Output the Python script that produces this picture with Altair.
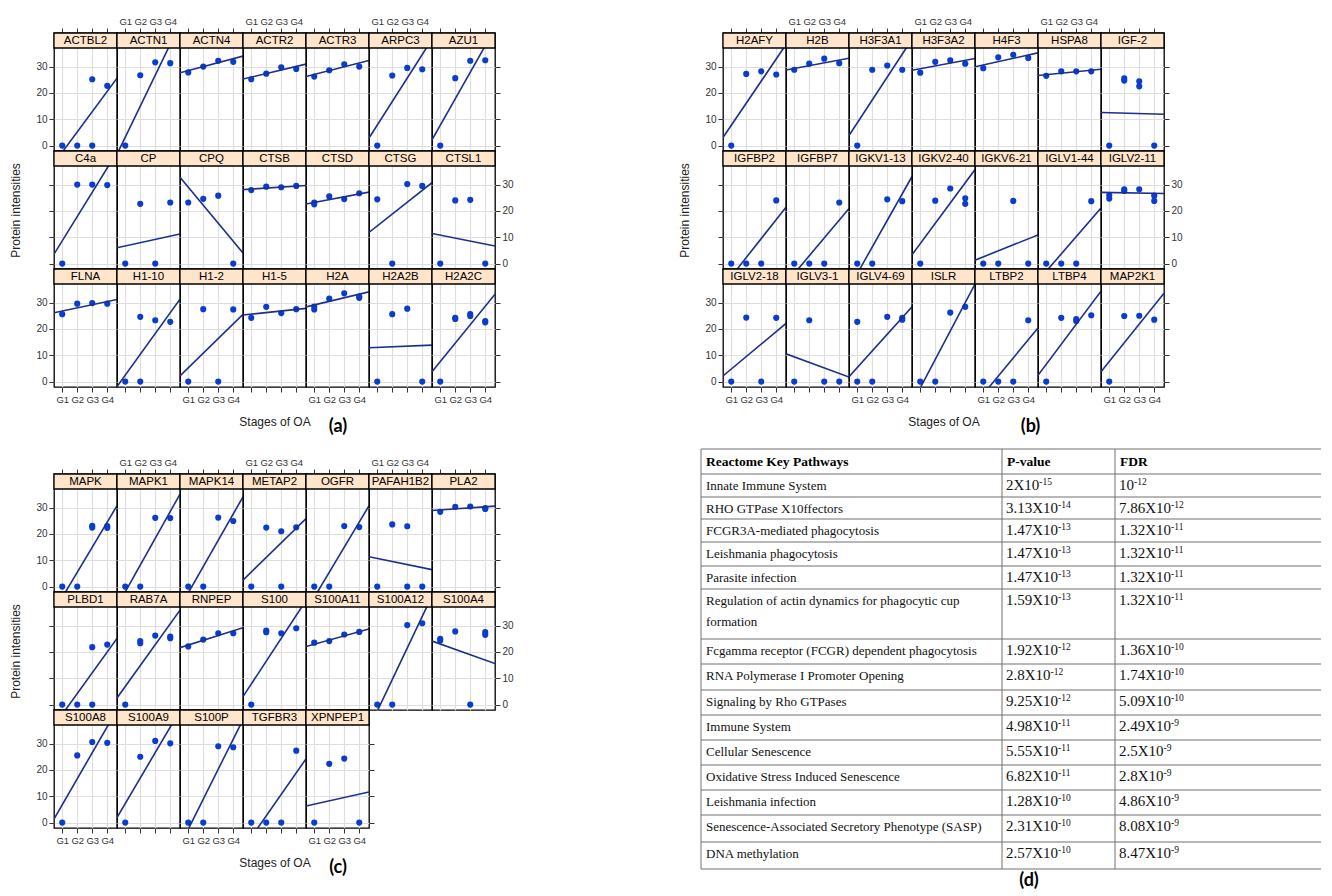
import altair as alt
import pandas as pd

SANS = "Liberation Sans, Arial, Helvetica, sans-serif"
SERIF = "Liberation Serif, Times New Roman, serif"
TAG = "Lato, Open Sans, sans-serif"

POINT_COLOR = "#0b3ccc"
LINE_COLOR = "#1c2f8c"
STRIP_FILL = "#ffe5cc"

STAGES = [1, 2, 3, 4]
Y_TICKS = [0, 10, 20, 30]

# ---------------- lattice (a) ----------------
A_NAMES = ["ACTBL2", "ACTN1", "ACTN4", "ACTR2", "ACTR3", "ARPC3", "AZU1",
           "C4a", "CP", "CPQ", "CTSB", "CTSD", "CTSG", "CTSL1",
           "FLNA", "H1-10", "H1-2", "H1-5", "H2A", "H2A2B", "H2A2C"]
A_POINTS = [
    [(1, 0), (2, 0), (3, 0), (3, 25.2), (4, 22.7)],
    [(1, 0), (2, 26.7), (3, 31.6), (4, 31.3)],
    [(1, 27.8), (2, 30), (3, 32.2), (4, 31.8)],
    [(1, 25.2), (2, 27.3), (3, 29.7), (4, 29.1)],
    [(1, 26.2), (2, 28.6), (3, 30.9), (4, 30)],
    [(1, 0), (2, 26.6), (3, 29.5), (4, 29)],
    [(1, 0), (2, 25.6), (3, 32.2), (4, 32.4)],
    [(1, 0), (2, 30), (3, 30), (4, 29.8)],
    [(1, 0), (2, 22.7), (3, 0), (4, 23.2)],
    [(1, 23.2), (2, 24.6), (3, 25.8), (4, 0)],
    [(1, 27.9), (2, 29.2), (3, 29), (4, 29.5)],
    [(1, 23.2), (1, 22.5), (2, 25.5), (3, 24.5), (4, 26.7)],
    [(1, 24.4), (2, 0), (3, 30.2), (4, 29.5)],
    [(1, 0), (2, 24), (3, 24.2), (4, 0)],
    [(1, 25.6), (2, 29.6), (3, 29.8), (4, 29.6)],
    [(1, 0), (2, 0), (2, 24.6), (3, 23.3), (4, 22.7)],
    [(1, 0), (2, 27.5), (3, 0), (4, 27.4)],
    [(1, 24.2), (2, 28.4), (3, 26), (4, 27.5)],
    [(1, 28.5), (1, 27.4), (2, 31.5), (3, 33.5), (4, 31.8), (4, 32.3)],
    [(1, 0), (2, 25.6), (3, 27.7), (4, 0)],
    [(1, 0), (2, 24.2), (2, 23.8), (3, 25.6), (3, 24.9), (4, 23), (4, 22.5)],
]
A_FIT_G1 = [-2.5, 3.2, 28.5, 26.0, 27.0, 7.8, 7.7,
            8.65, 6.7, 29.0, 28.3, 23.2, 14.3, 10.8,
            26.8, 2.45, 5.2, 25.6, 29.1, 13.0, 7.6]
A_FIT_G4 = [20.6, 38.5, 33.0, 30.05, 31.35, 34.6, 37.9,
            36.3, 10.45, 8.5, 29.4, 26.45, 27.8, 7.4,
            30.4, 26.15, 21.9, 27.4, 33.2, 13.7, 28.6]

# ---------------- lattice (b) ----------------
B_NAMES = ["H2AFY", "H2B", "H3F3A1", "H3F3A2", "H4F3", "HSPA8", "IGF-2",
           "IGFBP2", "IGFBP7", "IGKV1-13", "IGKV2-40", "IGKV6-21", "IGLV1-44", "IGLV2-11",
           "IGLV2-18", "IGLV3-1", "IGLV4-69", "ISLR", "LTBP2", "LTBP4", "MAP2K1"]
B_POINTS = [
    [(1, 0), (2, 27.2), (3, 28.2), (4, 27)],
    [(1, 28.8), (2, 31.1), (3, 33.0), (4, 31.3)],
    [(1, 0), (2, 28.8), (3, 30.4), (4, 28.8)],
    [(1, 27.7), (2, 31.8), (3, 32.4), (4, 31.1)],
    [(1, 29.4), (2, 33.5), (3, 34.5), (4, 33.3)],
    [(1, 26.5), (2, 28.2), (3, 28.2), (4, 28.2)],
    [(1, 0), (2, 25.5), (2, 24.7), (3, 24.4), (3, 22.5), (4, 0)],
    [(1, 0), (2, 0), (3, 0), (4, 24)],
    [(1, 0), (2, 0), (3, 0), (4, 23.2)],
    [(1, 0), (2, 0), (3, 24.4), (4, 23.7)],
    [(1, 0), (2, 23.9), (3, 28.5), (4, 24.8), (4, 22.7)],
    [(1, 0), (2, 0), (3, 23.8), (4, 0)],
    [(1, 0), (2, 0), (3, 0), (4, 23.7)],
    [(1, 26), (1, 24.7), (2, 28.2), (2, 27.6), (3, 28.2), (4, 25.8), (4, 23.8)],
    [(1, 0), (2, 24.3), (3, 0), (4, 24.2)],
    [(1, 0), (2, 23.3), (3, 0), (4, 0)],
    [(1, 22.7), (1, 0), (2, 0), (3, 24.6), (4, 24.2), (4, 23.5)],
    [(1, 0), (2, 0), (3, 26.2), (4, 28.4)],
    [(1, 0), (2, 0), (3, 0), (4, 23.3)],
    [(1, 0), (2, 24.2), (3, 23.7), (3, 23), (4, 25.2)],
    [(1, 0), (2, 24.9), (3, 25), (4, 23.5)],
]
B_FIT_G1 = [7.7, 29.3, 8.6, 29.2, 30.6, 26.9, 12.5,
            -4.9, -3.8, -3.8, 7.6, 2.55, -2.9, 27.0,
            4.75, 9.4, 5.3, -2.4, -4.8, 6.6, 7.6]
B_FIT_G4 = [32.9, 32.5, 34.7, 32.4, 34.4, 28.6, 12.0,
            16.7, 16.5, 26.5, 30.7, 9.4, 16.8, 26.7,
            19.0, 3.1, 24.3, 30.0, 15.9, 29.4, 28.9]

# ---------------- lattice (c) ----------------
C_NAMES = ["MAPK", "MAPK1", "MAPK14", "METAP2", "OGFR", "PAFAH1B2", "PLA2",
           "PLBD1", "RAB7A", "RNPEP", "S100", "S100A11", "S100A12", "S100A4",
           "S100A8", "S100A9", "S100P", "TGFBR3", "XPNPEP1"]
C_POINTS = [
    [(1, 0), (2, 0), (3, 23.1), (3, 22.4), (4, 23), (4, 22.3)],
    [(1, 0), (2, 0), (3, 26.1), (4, 26)],
    [(1, 0), (2, 0), (3, 26.2), (4, 24.9)],
    [(1, 0), (2, 22.4), (3, 21), (3, 0), (4, 22.5)],
    [(1, 0), (2, 0), (3, 23), (4, 22.6)],
    [(1, 0), (2, 23.6), (3, 22.9), (3, 0), (4, 0)],
    [(1, 28.4), (2, 30.25), (3, 30.4), (4, 29.5), (4, 29.8)],
    [(1, 0), (2, 0), (3, 21.8), (3, 0), (4, 22.8)],
    [(1, 0), (2, 24.1), (2, 23.3), (3, 26.2), (4, 25.8), (4, 25.2)],
    [(1, 22.1), (2, 24.7), (3, 27.1), (4, 27.1)],
    [(1, 0), (2, 28.1), (2, 27.5), (3, 27.1), (4, 29)],
    [(1, 23.5), (2, 24.1), (3, 26.6), (4, 27.6)],
    [(1, 0), (2, 0), (3, 30.2), (4, 30.9)],
    [(1, 25), (1, 24.3), (2, 27.8), (3, 0), (4, 27.5), (4, 26.5)],
    [(1, 0), (2, 25.5), (3, 30.6), (4, 30.3)],
    [(1, 0), (2, 25), (3, 31), (4, 30.1)],
    [(1, 0), (2, 0), (3, 29), (4, 28.6)],
    [(1, 0), (2, 0), (3, 0), (4, 27.3)],
    [(1, 0), (2, 22.3), (3, 24.3), (4, 0)],
]
C_FIT_G1 = [-4.1, -2.0, -2.4, 5.5, -4.1, 10.7, 29.1,
            -3.7, 6.9, 22.6, 7.8, 22.9, -2.5, 23.0,
            6.8, 7.2, -2.5, -5.6, 7.0]
C_FIT_G4 = [24.5, 28.5, 27.6, 22.2, 24.5, 7.2, 30.3,
            20.0, 30.7, 28.0, 33.9, 27.7, 33.5, 16.9,
            36.4, 36.3, 31.7, 18.9, 10.8]

# ---------------- table (d) ----------------
TABLE_HEADERS = ["Reactome Key Pathways", "P-value", "FDR"]
PATHWAYS = [
    "Innate Immune System",
    "RHO GTPase X10ffectors",
    "FCGR3A-mediated phagocytosis",
    "Leishmania phagocytosis",
    "Parasite infection",
    "Regulation of actin dynamics for phagocytic cup\nformation",
    "Fcgamma receptor (FCGR) dependent phagocytosis",
    "RNA Polymerase I Promoter Opening",
    "Signaling by Rho GTPases",
    "Immune System",
    "Cellular Senescence",
    "Oxidative Stress Induced Senescence",
    "Leishmania infection",
    "Senescence-Associated Secretory Phenotype (SASP)",
    "DNA methylation",
]
P_MANT = ["2", "3.13", "1.47", "1.47", "1.47", "1.59", "1.92", "2.8", "9.25",
          "4.98", "5.55", "6.82", "1.28", "2.31", "2.57"]
P_EXP = [-15, -14, -13, -13, -13, -13, -12, -12, -12, -11, -11, -11, -10, -10, -10]
FDR_MANT = ["", "7.86", "1.32", "1.32", "1.32", "1.32", "1.36", "1.74", "5.09",
            "2.49", "2.5", "2.8", "4.86", "8.08", "8.47"]
FDR_EXP = [-12, -12, -11, -11, -11, -11, -10, -10, -10, -9, -9, -9, -9, -9, -9]

# ---------------- layout constants ----------------
XMIN, XMAX = 0.45, 4.65
YMIN, YMAX = -2.05, 42.75
PW, PH, STRIP_H = 63, 118, 15
NCOLS = 7
FRAME_W = 1.3


def x_axis(row, col, nrows, below_empty, letter, tag_x):
    common = dict(values=STAGES, grid=True, domain=False, labelFlush=False,
                  labelExpr="'G' + datum.value", tickSize=5, labelFontSize=9.5)
    if row == 0:
        return alt.Axis(orient="top", ticks=True, labels=(col % 2 == 1), title=None, **common)
    last_row = row == nrows - 1
    if below_empty and last_row:
        if col == 3:
            kw = dict(title="Stages of OA", titleFont=SANS, titleFontSize=12,
                      titleFontWeight="normal", titlePadding=24)
        elif col == 4:
            kw = dict(title=f"({letter})", titleFont=TAG, titleFontSize=18,
                      titleFontWeight="bold", titlePadding=14, titleColor="black")
            if tag_x is not None:
                kw["titleX"] = tag_x
        else:
            kw = dict(title=None)
        return alt.Axis(orient="bottom", ticks=True, labels=(col % 2 == 0), **common, **kw)
    return alt.Axis(orient="bottom", ticks=False, labels=False, title=None, **common)


def y_axis(row, col, last_in_row):
    common = dict(values=Y_TICKS, grid=True, domain=False, tickSize=5, labelFlush=False)
    if col == 0:
        kw = dict(title=None)
        if row == 1:
            kw = dict(title="Protein intensities", titleFont=SANS, titleFontSize=12,
                      titleFontWeight="normal", titlePadding=26)
        return alt.Axis(orient="left", ticks=True, labels=(row % 2 == 0), **common, **kw)
    if last_in_row:
        return alt.Axis(orient="right", ticks=True, labels=(row % 2 == 1), title=None, **common)
    return alt.Axis(orient="left", ticks=False, labels=False, title=None, **common)


def panel(name, pts, g1, g4, idx, n, letter, tag_x):
    row, col = divmod(idx, NCOLS)
    nrows = (n + NCOLS - 1) // NCOLS
    last_in_row = col == NCOLS - 1 or idx == n - 1
    below_empty = idx + NCOLS >= n
    xa = x_axis(row, col, nrows, below_empty, letter, tag_x)
    ya = y_axis(row, col, last_in_row)
    xs = alt.Scale(domain=[XMIN, XMAX], nice=False, zero=False)
    ys = alt.Scale(domain=[YMIN, YMAX], nice=False, zero=False)
    enc_x = alt.X("stage:Q", scale=xs, axis=xa)
    enc_y = alt.Y("value:Q", scale=ys, axis=ya)

    pts_df = pd.DataFrame({"stage": [p[0] for p in pts], "value": [p[1] for p in pts]})
    fit_df = pd.DataFrame({"stage": [STAGES[0], STAGES[-1]], "value": [g1, g4]})
    strip_df = pd.DataFrame({"name": [name]})

    points = alt.Chart(pts_df).mark_circle(size=38, color=POINT_COLOR, opacity=1).encode(
        x=enc_x, y=enc_y)
    line = alt.Chart(fit_df).transform_regression(
        "stage", "value", extent=[XMIN, XMAX]
    ).mark_line(color=LINE_COLOR, strokeWidth=1.6, clip=True).encode(x=enc_x, y=enc_y)
    strip = alt.Chart(strip_df).mark_rect(fill=STRIP_FILL, stroke="black", strokeWidth=FRAME_W).encode(
        x=alt.value(0), x2=alt.value(PW), y=alt.value(0), y2=alt.value(STRIP_H))
    label = alt.Chart(strip_df).mark_text(font=SANS, fontSize=11.5, color="black",
                                          baseline="middle", align="center").encode(
        x=alt.value(PW / 2), y=alt.value(STRIP_H / 2 + 0.5), text="name:N")
    return alt.layer(points, line, strip, label).properties(
        width=PW, height=PH, view=alt.ViewBackground(stroke="black", strokeWidth=FRAME_W))


def lattice(names, points, g1s, g4s, letter, tag_x=None):
    n = len(names)
    cells = [panel(names[i], points[i], g1s[i], g4s[i], i, n, letter, tag_x) for i in range(n)]
    return alt.concat(*cells, columns=NCOLS, spacing=0, bounds="flush")


# ---------------- table chart ----------------
# The table's origin sits on the (b) lattice's plot origin, so its left part is drawn at negative x.
TD_W, TD_H = 598, 436
COL_EDGES = [-22, 279, 392]
ROW_HEIGHTS = [25, 23, 22, 23, 24, 23, 50, 25, 26, 25, 25, 25, 25, 25, 27, 27]
PATH_FONT, VAL_FONT, EXP_FONT = 13, 15, 9.5
TIMES_W = {**{d: 0.5 for d in "0123456789"}, ".": 0.25, "X": 0.722}


def text_width(s, size):
    return sum(TIMES_W[c] for c in s) * size


def table_chart():
    bounds = [0]
    for h in ROW_HEIGHTS:
        bounds.append(bounds[-1] + h)
    table_bottom = bounds[-1]
    ys = alt.Scale(domain=[0, TD_H], reverse=True, nice=False, zero=False)
    xs = alt.Scale(domain=[0, TD_W], nice=False, zero=False)

    p_base = [f"{m}X10" if m else "10" for m in P_MANT]
    f_base = [f"{m}X10" if m else "10" for m in FDR_MANT]
    body = pd.DataFrame({
        "pathway": PATHWAYS,
        "pbase": p_base,
        "pexp": [str(e) for e in P_EXP],
        "pex": [COL_EDGES[1] + 4 + text_width(s, VAL_FONT) for s in p_base],
        "fbase": f_base,
        "fexp": [str(e) for e in FDR_EXP],
        "fex": [COL_EDGES[2] + 4 + text_width(s, VAL_FONT) for s in f_base],
        "top": bounds[1:-1],
    })
    rule_color = "#707070"
    hl = alt.Chart(pd.DataFrame({"yb": bounds})).mark_rule(color=rule_color, strokeWidth=1).encode(
        y=alt.Y("yb:Q", scale=ys, axis=None), x=alt.value(COL_EDGES[0]), x2=alt.value(TD_W))
    vl = alt.Chart(pd.DataFrame({"xb": COL_EDGES})).mark_rule(color=rule_color, strokeWidth=1).encode(
        x=alt.X("xb:Q", scale=xs, axis=None), y=alt.value(0), y2=alt.value(table_bottom))
    head_df = pd.DataFrame({"h": TABLE_HEADERS, "hx": [c + 5 for c in COL_EDGES]})
    head = alt.Chart(head_df).mark_text(font=SERIF, fontSize=13.5, fontWeight="bold",
                                        align="left", baseline="middle", color="black").encode(
        x=alt.X("hx:Q", scale=xs, axis=None), y=alt.value(ROW_HEIGHTS[0] / 2 + 0.5), text="h:N")
    path_t = alt.Chart(body).mark_text(font=SERIF, fontSize=PATH_FONT, align="left", baseline="top",
                                       dy=5.5, lineBreak="\n", lineHeight=21, color="#111").encode(
        x=alt.value(COL_EDGES[0] + 5), y=alt.Y("top:Q", scale=ys, axis=None), text="pathway:N")
    layers = [hl, vl, head, path_t]
    for base, ex, exf, col in (("pbase", "pexp", "pex", 1), ("fbase", "fexp", "fex", 2)):
        layers.append(alt.Chart(body).mark_text(
            font=SERIF, fontSize=VAL_FONT, align="left", baseline="top", dy=4, color="#111").encode(
            x=alt.value(COL_EDGES[col] + 4), y=alt.Y("top:Q", scale=ys, axis=None), text=f"{base}:N"))
        layers.append(alt.Chart(body).mark_text(
            font=SERIF, fontSize=EXP_FONT, align="left", baseline="top", dy=2.5, color="#111").encode(
            x=alt.X(f"{exf}:Q", scale=xs, axis=None), y=alt.Y("top:Q", scale=ys, axis=None),
            text=f"{ex}:N"))
    tag = alt.Chart(pd.DataFrame({"t": ["(d)"]})).mark_text(
        font=TAG, fontSize=18, fontWeight="bold", color="black", align="center", baseline="middle").encode(
        x=alt.value(306), y=alt.value(table_bottom + 12), text="t:N")
    layers.append(tag)
    return alt.layer(*layers).properties(width=TD_W, height=TD_H)


A = lattice(A_NAMES, A_POINTS, A_FIT_G1, A_FIT_G4, "a")
B = lattice(B_NAMES, B_POINTS, B_FIT_G1, B_FIT_G4, "b", tag_x=55)
C = lattice(C_NAMES, C_POINTS, C_FIT_G1, C_FIT_G4, "c")
D = table_chart()

left = alt.vconcat(A, C, spacing=19)
right = alt.vconcat(B, D, spacing=11)

chart = alt.hconcat(left, right, spacing=163).properties(
    padding={"left": 0, "top": 7, "right": 0, "bottom": 0}
).configure_view(stroke="transparent").configure_axis(
    labelFont=SANS, labelFontSize=10, labelColor="#333", tickColor="#333",
    gridColor="#dedede", gridWidth=1.2, labelPadding=2, titleColor="#222",
)

chart.save("out.html", embed_options={"renderer": "svg", "actions": False})
